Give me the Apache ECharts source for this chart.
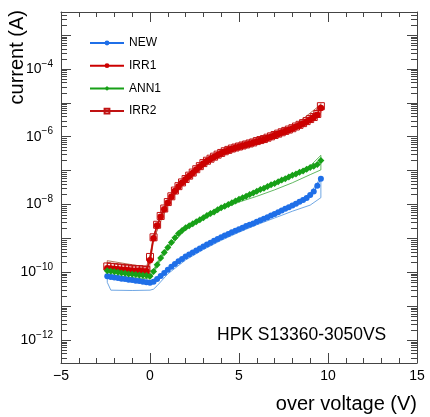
<!DOCTYPE html>
<html><head><meta charset="utf-8">
<script src="https://cdn.jsdelivr.net/npm/echarts@6/dist/echarts.min.js"></script>
<style>html,body{margin:0;padding:0;background:#fff}#c{width:430px;height:417px}</style>
</head><body><div id="c"></div>
<script>
// ---------- data (current stored as log10 of amps) ----------
const overVoltage = [-2.4,-2.2,-2.0,-1.8,-1.6,-1.4,-1.2,-1.0,-0.8,-0.6,
 -0.4,-0.2,0.0,0.2,0.4,0.6,0.8,1.0,1.2,1.4,
 1.6,1.8,2.0,2.2,2.4,2.6,2.8,3.0,3.2,3.4,
 3.6,3.8,4.0,4.2,4.4,4.6,4.8,5.0,5.2,5.4,
 5.6,5.8,6.0,6.2,6.4,6.6,6.8,7.0,7.2,7.4,
 7.6,7.8,8.0,8.2,8.4,8.6,8.8,9.0,9.2,9.4,
 9.6];
const newLog10A = [-10.12,-10.14,-10.16,-10.17,-10.19,-10.20,-10.22,-10.23,-10.25,-10.26,
 -10.28,-10.30,-10.31,-10.28,-10.20,-10.11,-10.02,-9.93,-9.84,-9.76,
 -9.68,-9.61,-9.54,-9.48,-9.42,-9.36,-9.30,-9.24,-9.18,-9.13,
 -9.07,-9.02,-8.97,-8.92,-8.87,-8.82,-8.78,-8.73,-8.69,-8.64,
 -8.60,-8.56,-8.51,-8.47,-8.42,-8.38,-8.33,-8.28,-8.23,-8.18,
 -8.13,-8.08,-8.03,-7.98,-7.92,-7.87,-7.81,-7.72,-7.62,-7.45,
 -7.24];
const irr1Log10A = [-9.88,-9.89,-9.90,-9.91,-9.92,-9.93,-9.94,-9.95,-9.96,-9.96,
 -9.97,-9.97,-9.65,-9.00,-8.62,-8.36,-8.14,-7.95,-7.77,-7.60,
 -7.47,-7.36,-7.26,-7.16,-7.07,-6.97,-6.88,-6.79,-6.72,-6.66,
 -6.60,-6.54,-6.49,-6.44,-6.40,-6.36,-6.33,-6.30,-6.27,-6.24,
 -6.21,-6.18,-6.14,-6.11,-6.08,-6.04,-6.00,-5.96,-5.92,-5.88,
 -5.84,-5.80,-5.76,-5.71,-5.66,-5.61,-5.55,-5.49,-5.43,-5.35,
 -5.15];
const ann1Log10A = [-9.96,-9.97,-9.99,-10.00,-10.02,-10.03,-10.05,-10.06,-10.07,-10.08,
 -10.09,-10.10,-10.12,-9.98,-9.78,-9.58,-9.42,-9.27,-9.12,-8.98,
 -8.86,-8.77,-8.69,-8.63,-8.57,-8.51,-8.45,-8.39,-8.33,-8.27,
 -8.22,-8.16,-8.10,-8.05,-8.00,-7.95,-7.90,-7.85,-7.80,-7.76,
 -7.71,-7.66,-7.61,-7.56,-7.52,-7.47,-7.42,-7.38,-7.33,-7.28,
 -7.24,-7.19,-7.14,-7.10,-7.05,-7.01,-6.96,-6.91,-6.87,-6.82,
 -6.70];
const irr2Log10A = [-9.83,-9.84,-9.85,-9.86,-9.87,-9.88,-9.89,-9.90,-9.91,-9.91,
 -9.92,-9.93,-9.55,-8.97,-8.60,-8.34,-8.12,-7.93,-7.76,-7.59,
 -7.46,-7.35,-7.25,-7.15,-7.06,-6.96,-6.87,-6.78,-6.71,-6.65,
 -6.59,-6.53,-6.48,-6.43,-6.39,-6.35,-6.32,-6.29,-6.26,-6.23,
 -6.20,-6.17,-6.13,-6.10,-6.07,-6.03,-5.99,-5.95,-5.91,-5.87,
 -5.83,-5.79,-5.75,-5.70,-5.65,-5.60,-5.54,-5.48,-5.42,-5.33,
 -5.10];

// spread bands (outline: upper edge left->right, lower edge right->left, closed)
const newBandV   = [-2.4,-1.0,0.0,0.4,1.0,2.0,3.0,4.0,5.0,6.0,7.0,8.0,9.0,9.6, 9.6,9.0,8.0,7.0,6.0,5.0,4.0,3.0,2.0,1.0,0.4,0.2,0.0,-1.0,-2.2,-2.4,-2.4];
const newBandLog = [-10.05,-10.18,-10.26,-10.16,-9.89,-9.50,-9.21,-8.94,-8.70,-8.48,-8.25,-8.00,-7.68,-7.20, -7.80,-8.02,-8.20,-8.40,-8.60,-8.82,-9.06,-9.33,-9.64,-10.05,-10.40,-10.50,-10.53,-10.54,-10.53,-10.30,-10.05];
const ann1BandV   = [-2.4,-1.0,-0.2,0.2,0.6,1.0,2.0,3.0,4.0,5.0,6.0,7.0,8.0,9.0,9.6, 9.6,9.0,8.0,7.0,6.0,5.0,4.0,3.0,2.0,1.0,0.6,0.2,0.0,-1.0,-2.4,-2.4];
const ann1BandLog = [-9.85,-9.95,-10.00,-9.92,-9.52,-9.22,-8.65,-8.35,-8.06,-7.81,-7.57,-7.34,-7.10,-6.86,-6.55, -6.98,-7.12,-7.36,-7.57,-7.76,-7.93,-8.14,-8.43,-8.73,-9.32,-9.64,-10.04,-10.20,-10.16,-10.10,-9.85];
const irr1BandV   = [-2.4,-1.5,-0.5,-0.1,0.0,0.2,0.6,1.0,2.0,3.0,4.0,5.0,6.0,7.0,8.0,9.0,9.6, 9.6,9.0,8.0,7.0,6.0,5.0,4.0,3.0,2.0,1.0,0.6,0.2,0.0,-0.1,-1.0,-2.4,-2.4];
const irr1BandLog = [-9.72,-9.80,-9.86,-9.88,-9.55,-8.92,-8.30,-7.90,-7.22,-6.76,-6.46,-6.27,-6.11,-5.93,-5.73,-5.45,-5.02, -5.30,-5.53,-5.79,-5.99,-6.17,-6.33,-6.52,-6.82,-7.29,-7.98,-8.40,-9.06,-9.78,-10.04,-10.04,-9.98,-9.72];
const irr2BandV   = [-2.4,-1.0,-0.2,0.0,0.2,1.0,2.0,4.0,6.0,8.0,9.6, 9.6,8.0,6.0,4.0,2.0,1.0,0.2,0.0,-0.2,-1.0,-2.4,-2.4];
const irr2BandLog = [-9.66,-9.78,-9.84,-9.50,-8.90,-7.88,-7.21,-6.45,-6.10,-5.72,-5.05, -5.20,-5.78,-6.16,-6.51,-7.28,-7.97,-9.04,-9.70,-9.98,-9.97,-9.90,-9.66];

const legendNames = ['NEW','IRR1','ANN1','IRR2'];
const xTickLabels = ['−5','0','5','10','15'];
const yTickExponents = [-12,-10,-8,-6,-4];
const yDecades = [-13,-12,-11,-10,-9,-8,-7,-6,-5,-4,-3];
const minorTickMultipliers = [2,3,4,5,6,7,8,9];

// ---------- layout / style ----------
const xMin = -5, xMax = 15;
const yMinExp = -12.68, yMaxExp = -2.32;
const FONT = 'Liberation Sans, Arial, sans-serif';
const axisColor = '#444444';
const cNew = '#1f6fe8', cIrr1 = '#cc0000', cAnn1 = '#17a017', cIrr2 = '#c01212';

function toPairs(xs, logs) { return xs.map((x, i) => [x, Math.pow(10, logs[i])]); }

const minorTickData = [];
yDecades.forEach(d => minorTickMultipliers.forEach(k => {
  const v = k * Math.pow(10, d);
  if (v > Math.pow(10, yMinExp) && v < Math.pow(10, yMaxExp)) minorTickData.push([xMin, v]);
}));

function bandSeries(name, xs, logs, color) {
  return {name, type: 'line', xAxisIndex: 0, yAxisIndex: 0, data: toPairs(xs, logs),
    symbol: 'none', lineStyle: {width: 0.8, color}, z: 2};
}
function mainSeries(name, logs, color, symbol, size, itemStyle) {
  return {name, type: 'line', xAxisIndex: 0, yAxisIndex: 0, data: toPairs(overVoltage, logs),
    symbol, symbolSize: size, showSymbol: true, color,
    lineStyle: {width: 1, color}, itemStyle: itemStyle || {color}, z: 3};
}
function xAxisDef(pos, labels) {
  return {type: 'value', min: xMin, max: xMax, interval: 5, position: pos,
    axisLine: {show: true, onZero: false, lineStyle: {color: axisColor, width: 1}},
    axisTick: {show: true, inside: true, length: 10, lineStyle: {color: axisColor, width: 1}},
    minorTick: {show: true, splitNumber: 5, length: 5, lineStyle: {color: axisColor, width: 1}},
    splitLine: {show: false}, minorSplitLine: {show: false},
    axisLabel: labels ? {fontSize: 14, fontFamily: FONT, color: '#000', margin: 6,
      formatter: v => xTickLabels[Math.round((v - xMin) / 5)]} : {show: false}};
}

const chart = echarts.init(document.getElementById('c'), null, {renderer: 'canvas'});
chart.setOption({
  animation: false,
  grid: {left: 61, right: 13, top: 12, bottom: 54},
  legend: {
    data: legendNames, orient: 'vertical', left: 89, top: 37, padding: 0,
    itemWidth: 34, itemHeight: 6, itemGap: 10.7, selectedMode: false,
    textStyle: {fontSize: 12, lineHeight: 12, fontFamily: FONT, color: '#000'}
  },
  xAxis: [xAxisDef('bottom', true), xAxisDef('top', false)],
  yAxis: [
    {type: 'log', logBase: 10, min: Math.pow(10, yMinExp), max: Math.pow(10, yMaxExp), position: 'left',
     axisLine: {show: true, onZero: false, lineStyle: {color: axisColor, width: 1}},
     axisTick: {show: false}, axisLabel: {show: false}, splitLine: {show: false}, minorTick: {show: false}},
    {type: 'value', min: yMinExp, max: yMaxExp, splitNumber: 10, position: 'left',
     axisLine: {show: false, onZero: false},
     axisTick: {show: true, inside: true, length: 10, lineStyle: {color: axisColor, width: 1}},
     splitLine: {show: false},
     axisLabel: {margin: 8, showMinLabel: false, showMaxLabel: false,
       formatter: function (v) {
         const r = Math.round(v);
         if (Math.abs(v - r) > 1e-6 || yTickExponents.indexOf(r) < 0) return '';
         return '{b|10}{s|−' + Math.abs(r) + '}';
       },
       rich: {
         b: {fontSize: 14, fontFamily: FONT, color: '#000', lineHeight: 14, verticalAlign: 'bottom'},
         s: {fontSize: 10, fontFamily: FONT, color: '#000', lineHeight: 10, verticalAlign: 'bottom', padding: [0, 0, 7, 0]}
       }}},
    {type: 'value', min: yMinExp, max: yMaxExp, splitNumber: 10, position: 'right',
     axisLine: {show: true, onZero: false, lineStyle: {color: axisColor, width: 1}},
     axisTick: {show: true, inside: true, length: 10, lineStyle: {color: axisColor, width: 1}},
     splitLine: {show: false}, axisLabel: {show: false}}
  ],
  series: [
    bandSeries('newBand', newBandV, newBandLog, '#4a8fdc'),
    bandSeries('ann1Band', ann1BandV, ann1BandLog, '#3aa63a'),
    bandSeries('irr1Band', irr1BandV, irr1BandLog, '#d24040'),
    bandSeries('irr2Band', irr2BandV, irr2BandLog, '#a0522d'),
    mainSeries('NEW', newLog10A, cNew, 'circle', 6),
    mainSeries('IRR2', irr2Log10A, cIrr2, 'rect', 7,
      {color: 'rgba(255,255,255,0)', borderColor: cIrr2, borderWidth: 1}),
    mainSeries('IRR1', irr1Log10A, cIrr1, 'circle', 6.5),
    mainSeries('ANN1', ann1Log10A, cAnn1, 'diamond', 7),
    {name: 'yMinorTicks', type: 'custom', xAxisIndex: 0, yAxisIndex: 0,
     data: minorTickData, encode: {x: 0, y: 1},
     renderItem: function (params, api) {
       const pL = api.coord([xMin, api.value(1)]);
       const pR = api.coord([xMax, api.value(1)]);
       const y = Math.round(pL[1]) + 0.5;
       return {type: 'group', children: [
         {type: 'line', shape: {x1: pL[0], y1: y, x2: pL[0] + 6, y2: y}, style: {stroke: axisColor, lineWidth: 1}},
         {type: 'line', shape: {x1: pR[0], y1: y, x2: pR[0] - 6, y2: y}, style: {stroke: axisColor, lineWidth: 1}}
       ]};
     }}
  ],
  graphic: {elements: [
    {type: 'text', x: 17.5, y: 10, rotation: Math.PI / 2,
     style: {text: 'current (A)', fontSize: 20, fontFamily: FONT, fill: '#000',
       align: 'right', verticalAlign: 'middle', textAlign: 'right', textVerticalAlign: 'middle'}},
    {type: 'text', x: 417, y: 404,
     style: {text: 'over voltage (V)', fontSize: 20, fontFamily: FONT, fill: '#000',
       align: 'right', verticalAlign: 'middle', textAlign: 'right', textVerticalAlign: 'middle'}},
    {type: 'text', x: 217, y: 335.5,
     style: {text: 'HPK S13360-3050VS', fontSize: 17.5, fontFamily: FONT, fill: '#000',
       align: 'left', verticalAlign: 'middle', textAlign: 'left', textVerticalAlign: 'middle'}}
  ]}
});
</script>
</body></html>
